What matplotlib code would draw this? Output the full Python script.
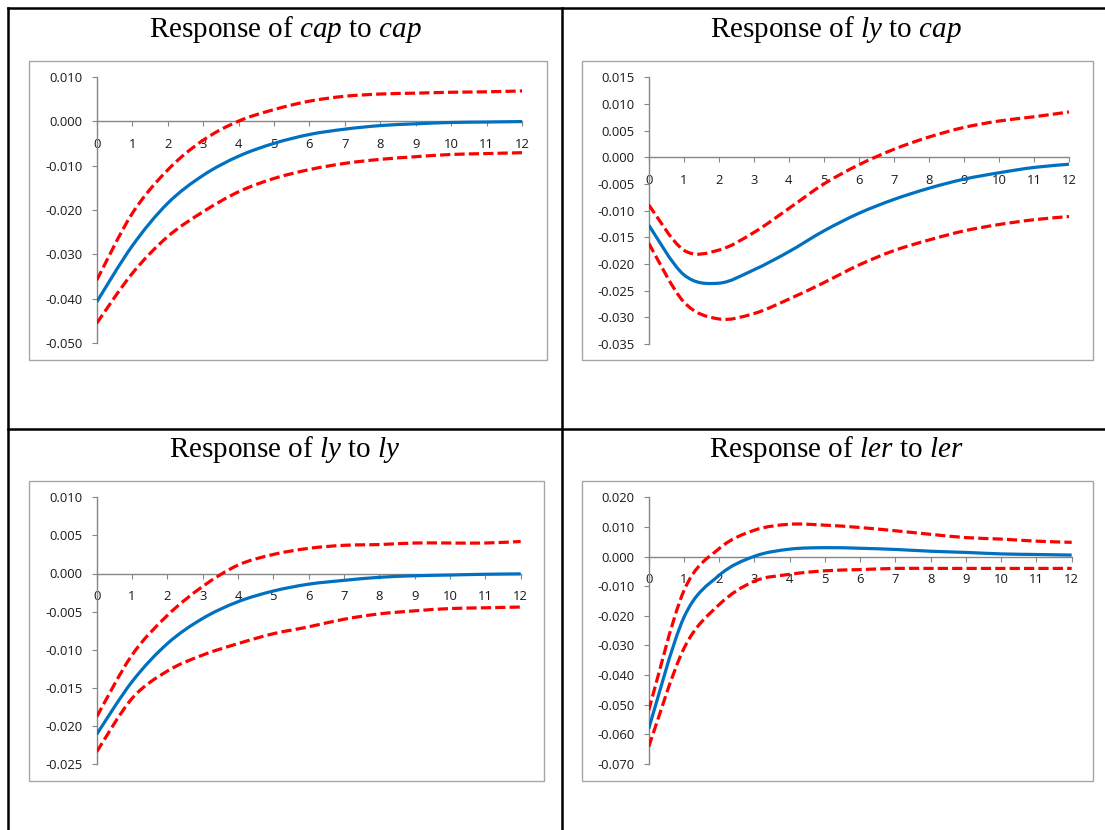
import numpy as np
import matplotlib
matplotlib.use("Agg")
import matplotlib.pyplot as plt
from matplotlib.path import Path
from matplotlib.patches import PathPatch, Rectangle
from matplotlib.lines import Line2D
from matplotlib.ticker import FuncFormatter, MultipleLocator

plt.rcParams["mathtext.fontset"] = "custom"
plt.rcParams["mathtext.rm"] = "Liberation Serif"
plt.rcParams["mathtext.it"] = "Liberation Serif:italic"

# ---------------- data ----------------
periods = list(range(13))

cap_cap = [-0.0407, -0.0281, -0.0185, -0.0122, -0.0079, -0.0050, -0.0030,
           -0.0018, -0.0010, -0.0006, -0.0003, -0.0002, -0.0001]
cap_cap_hi = [-0.0358, -0.0208, -0.0110, -0.0043, 0.0000, 0.0026, 0.0045,
              0.0056, 0.0061, 0.0063, 0.0065, 0.0066, 0.0068]
cap_cap_lo = [-0.0455, -0.0343, -0.0260, -0.0204, -0.0159, -0.0129, -0.0109,
              -0.0095, -0.0086, -0.0080, -0.0075, -0.0073, -0.0071]

ly_cap = [-0.0127, -0.0220, -0.0236, -0.0211, -0.0177, -0.0138, -0.0105,
          -0.0079, -0.0058, -0.0041, -0.0029, -0.0019, -0.0013]
ly_cap_hi = [-0.0089, -0.0174, -0.0174, -0.0141, -0.0096, -0.0050, -0.0014,
             0.0015, 0.0038, 0.0056, 0.0068, 0.0076, 0.0085]
ly_cap_lo = [-0.0161, -0.0271, -0.0303, -0.0293, -0.0266, -0.0235, -0.0202,
             -0.0175, -0.0155, -0.0138, -0.0126, -0.0117, -0.0111]

ly_ly = [-0.0211, -0.0142, -0.0092, -0.0059, -0.0037, -0.0023, -0.0014,
         -0.0009, -0.0005, -0.0003, -0.0002, -0.0001, -0.00005]
ly_ly_hi = [-0.0188, -0.0107, -0.0055, -0.0017, 0.0011, 0.0025, 0.0033,
            0.0037, 0.0038, 0.0040, 0.0040, 0.0040, 0.0042]
ly_ly_lo = [-0.0234, -0.0164, -0.0128, -0.0107, -0.0092, -0.0079, -0.0070,
            -0.0060, -0.0053, -0.0049, -0.0046, -0.0045, -0.0044]

ler_ler = [-0.0581, -0.0205, -0.0063, 0.0001, 0.0025, 0.0030, 0.0028,
           0.0024, 0.0018, 0.0014, 0.0009, 0.0007, 0.0005]
ler_ler_hi = [-0.0519, -0.0115, 0.0027, 0.0089, 0.0109, 0.0106, 0.0098,
              0.0087, 0.0075, 0.0064, 0.0059, 0.0052, 0.0048]
ler_ler_lo = [-0.0642, -0.0310, -0.0162, -0.0083, -0.0060, -0.0048, -0.0044,
              -0.0040, -0.0040, -0.0040, -0.0040, -0.0040, -0.0040]

titles = [r"Response of $\mathit{cap}$ to $\mathit{cap}$",
          r"Response of $\mathit{ly}$ to $\mathit{cap}$",
          r"Response of $\mathit{ly}$ to $\mathit{ly}$",
          r"Response of $\mathit{ler}$ to $\mathit{ler}$"]
y_ranges = [(-0.050, 0.010, 0.010), (-0.035, 0.015, 0.005),
            (-0.025, 0.010, 0.005), (-0.070, 0.020, 0.010)]
series = [(cap_cap, cap_cap_hi, cap_cap_lo), (ly_cap, ly_cap_hi, ly_cap_lo),
          (ly_ly, ly_ly_hi, ly_ly_lo), (ler_ler, ler_ler_hi, ler_ler_lo)]

# ---------------- layout (pixels) ----------------
W, H = 1105, 830
axes_px = [(96.7, 76.7, 522.3, 343.3), (648.7, 77.3, 1069.0, 344.0),
           (96.7, 497.3, 520.7, 764.0), (648.7, 497.3, 1071.7, 764.0)]
boxes_px = [(29, 61, 547, 360), (582, 61, 1093, 360),
            (29, 481, 544, 781), (582, 481, 1093, 781)]
title_pos = [(285, 37), (836, 37), (285, 457), (836, 457)]

BLUE = "#0070C0"
RED = "#FF0000"
GRAY = "#868686"
TICKFONT = "Open Sans"

fig = plt.figure(figsize=(W / 100, H / 100), dpi=100)


def fx(x):
    return x / W


def fy(y):
    return 1 - y / H


def smooth_path(x, y):
    pts = np.column_stack([x, y]).astype(float)
    n = len(pts)
    verts = [pts[0]]
    codes = [Path.MOVETO]
    for i in range(n - 1):
        p0 = pts[i - 1] if i > 0 else pts[i]
        p1 = pts[i]
        p2 = pts[i + 1]
        p3 = pts[i + 2] if i + 2 < n else pts[i + 1]
        verts += [p1 + (p2 - p0) / 6, p2 - (p3 - p1) / 6, p2]
        codes += [Path.CURVE4] * 3
    return Path(verts, codes)


# table lines
tbl = dict(color="black", lw=1.8, transform=fig.transFigure, solid_capstyle="projecting")
fig.add_artist(Line2D([fx(8), 1], [fy(8), fy(8)], **tbl))
fig.add_artist(Line2D([fx(8), fx(8)], [fy(8), 0], **tbl))
fig.add_artist(Line2D([fx(562), fx(562)], [fy(8), 0], **tbl))
fig.add_artist(Line2D([fx(8), 1], [fy(429), fy(429)], **tbl))

for k in range(4):
    bx0, by0, bx1, by1 = boxes_px[k]
    fig.add_artist(Rectangle((fx(bx0), fy(by1)), fx(bx1 - bx0), (by1 - by0) / H,
                             transform=fig.transFigure, fill=False,
                             edgecolor="#A6A6A6", lw=1.0))
    tx, ty = title_pos[k]
    fig.text(fx(tx), fy(ty), titles[k], ha="center", va="baseline",
             fontsize=21, family="Liberation Serif")

    x0, y0, x1, y1 = axes_px[k]
    ax = fig.add_axes([fx(x0), fy(y1), fx(x1 - x0), (y1 - y0) / H])
    ax.patch.set_alpha(0)
    lo, hi, step = y_ranges[k]
    ax.set_xlim(0, 12)
    ax.set_ylim(lo, hi)
    for s in ("top", "right"):
        ax.spines[s].set_visible(False)
    ax.spines["left"].set_color(GRAY)
    ax.spines["left"].set_linewidth(1.0)
    ax.spines["bottom"].set_position(("data", 0))
    ax.spines["bottom"].set_color(GRAY)
    ax.spines["bottom"].set_linewidth(1.0)
    ax.set_xticks(periods)
    ax.yaxis.set_major_locator(MultipleLocator(step))
    ax.yaxis.set_major_formatter(FuncFormatter(
        lambda v, p: "0.000" if abs(v) < 1e-9 else f"{v:.3f}"))
    ax.tick_params(axis="x", direction="out", length=3.5, width=0.8,
                   color=GRAY, pad=8.5, labelsize=9.4)
    ax.tick_params(axis="y", direction="out", length=3.5, width=0.8,
                   color=GRAY, pad=6.5, labelsize=9.4)
    for lab in ax.get_xticklabels() + ax.get_yticklabels():
        lab.set_family(TICKFONT)
        lab.set_color("#1a1a1a")

    mid, up, dn = series[k]
    for vals, col, ls in ((up, RED, (0, (3.2, 1.3))), (dn, RED, (0, (3.2, 1.3))),
                          (mid, BLUE, "-")):
        ax.add_patch(PathPatch(smooth_path(periods, vals), fill=False,
                               edgecolor=col, lw=2.3, linestyle=ls,
                               capstyle="butt", joinstyle="round", zorder=3))

fig.savefig("out.png", dpi=100)
